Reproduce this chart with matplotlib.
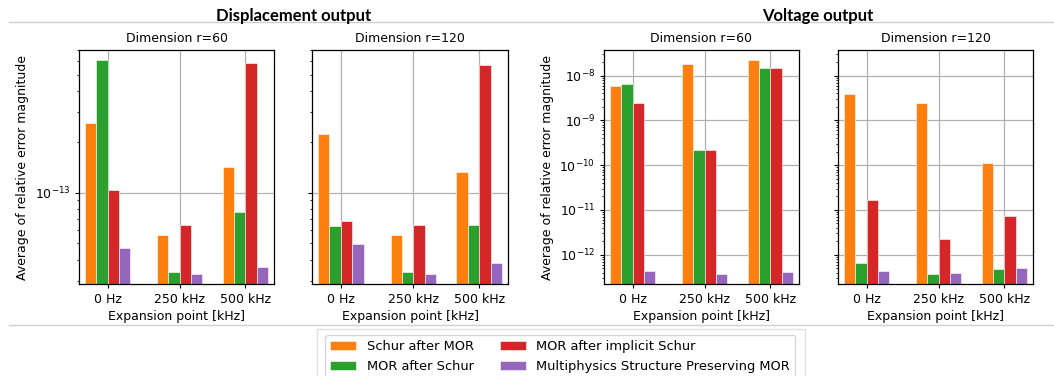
import matplotlib
matplotlib.use("Agg")
import matplotlib.pyplot as plt
import matplotlib.ticker as mticker
from matplotlib.patches import Rectangle
from matplotlib.lines import Line2D

W, H = 1054, 376

points = ["0 Hz", "250 kHz", "500 kHz"]
methods = ["Schur after MOR", "MOR after Schur", "MOR after implicit Schur",
           "Multiphysics Structure Preserving MOR"]
colors = ["#ff7f0e", "#2ca02c", "#d62728", "#9467bd"]

# rows = methods (same order as above), columns = expansion points
disp_r60 = [
    [2.59e-13, 5.57e-14, 1.42e-13],
    [6.07e-13, 3.39e-14, 7.65e-14],
    [1.03e-13, 6.41e-14, 5.89e-13],
    [4.69e-14, 3.31e-14, 3.62e-14],
]
disp_r120 = [
    [2.21e-13, 5.62e-14, 1.32e-13],
    [6.30e-14, 3.39e-14, 6.41e-14],
    [6.77e-14, 6.38e-14, 5.73e-13],
    [4.95e-14, 3.28e-14, 3.81e-14],
]
volt_r60 = [
    [5.78e-9, 1.79e-8, 2.23e-8],
    [6.41e-9, 2.16e-10, 1.46e-8],
    [2.41e-9, 2.16e-10, 1.46e-8],
    [4.40e-13, 3.77e-13, 4.10e-13],
]
volt_r120 = [
    [3.84e-9, 2.41e-9, 1.11e-10],
    [6.52e-13, 3.77e-13, 4.87e-13],
    [1.69e-11, 2.20e-12, 7.28e-12],
    [4.32e-13, 3.97e-13, 5.13e-13],
]

# layout
group_pos = [0, 1.276, 2.435]
width = 0.2
xlim = (-0.506, 2.941)
disp_ylim = (2.87e-14, 7.0e-13)
volt_ylim = (2.22e-13, 3.73e-8)

fig = plt.figure(figsize=(W / 100, H / 100), dpi=100)
plt.rcParams["font.size"] = 9


def px_axes(x0, x1, y0=50, y1=284, sharey=None):
    return fig.add_axes([x0 / W, 1 - y1 / H, (x1 - x0) / W, (y1 - y0) / H], sharey=sharey)


ax1 = px_axes(79, 274)
ax2 = px_axes(312, 508, sharey=ax1)
ax3 = px_axes(604, 799)
ax4 = px_axes(838, 1033, sharey=ax3)

panels = [(ax1, disp_r60, "Dimension r=60"), (ax2, disp_r120, "Dimension r=120"),
          (ax3, volt_r60, "Dimension r=60"), (ax4, volt_r120, "Dimension r=120")]

handles = []
for ax, data, title in panels:
    ax.set_yscale("log")
    ax.set_axisbelow(True)
    for i, vals in enumerate(data):
        xs = [p + (i - 1.5) * width for p in group_pos]
        b = ax.bar(xs, vals, width, color=colors[i], edgecolor="white", linewidth=0.4)
        if ax is ax1:
            handles.append(b)
    ax.set_xticks(group_pos)
    ax.set_xticklabels(points)
    ax.set_xlim(*xlim)
    ax.set_xlabel("Expansion point [kHz]", fontsize=9, labelpad=3)
    ax.set_title(title, fontsize=9, pad=6)
    ax.grid(True, which="major", color="#b0b0b0", linewidth=0.9)
    ax.tick_params(labelsize=9, length=3.2, pad=3)
    ax.tick_params(which="minor", length=1.8)
    ax.yaxis.set_minor_formatter(mticker.NullFormatter())
    for s in ax.spines.values():
        s.set_linewidth(0.9)

ax1.set_ylim(*disp_ylim)
ax3.set_ylim(*volt_ylim)
ax3.yaxis.set_major_locator(mticker.LogLocator(base=10, numticks=20))
ax1.set_ylabel("Average of relative error magnitude", fontsize=9)
ax3.set_ylabel("Average of relative error magnitude", fontsize=9)
ax2.tick_params(labelleft=False)
ax4.tick_params(labelleft=False)

# section headers and separator lines
fig.text(294 / W, 1 - 16 / H, "Displacement output", ha="center", va="center",
         fontsize=12, fontweight="bold", family=["Lato", "DejaVu Sans"])
fig.text(818 / W, 1 - 16 / H, "Voltage output", ha="center", va="center",
         fontsize=12, fontweight="bold", family=["Lato", "DejaVu Sans"])
for yy in (22, 325):
    fig.add_artist(Line2D([9 / W, 1], [1 - yy / H] * 2, color="#cfcfcf", lw=1,
                          transform=fig.transFigure))

fig.add_artist(Rectangle((317 / W, -0.01), (805 - 317) / W, (376 - 329) / H + 0.01,
                         fill=False, edgecolor="#e0e0e0", lw=1, transform=fig.transFigure))

fig.legend(handles, methods, ncol=2, loc="upper left", bbox_to_anchor=(325 / W, 1 - 335 / H),
           borderaxespad=0, fontsize=9.4)

fig.savefig("out.png", dpi=100)
